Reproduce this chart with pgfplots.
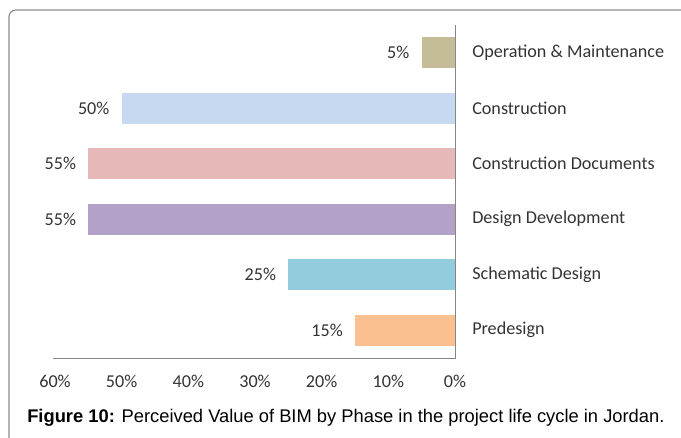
\documentclass[border=0pt]{standalone}
\usepackage{fontspec}
\setmainfont{Carlito}
\newfontfamily\capfont{Liberation Sans}
\usepackage{pgfplots}
\pgfplotsset{compat=1.18}
\definecolor{cOM}{HTML}{C4BD97}
\definecolor{cCO}{HTML}{C6D9F1}
\definecolor{cCD}{HTML}{E6B9B8}
\definecolor{cDD}{HTML}{B3A2C7}
\definecolor{cSD}{HTML}{93CDDD}
\definecolor{cPD}{HTML}{FAC090}
\definecolor{txt}{HTML}{333333}
\definecolor{axl}{HTML}{868686}
\begin{document}
\begin{tikzpicture}
\useasboundingbox (0,0) rectangle (510.75pt,327.75pt);
\begin{scope}
\clip (0,0) rectangle (510.75pt,327.75pt);
\draw[color=black!45, line width=0.9pt, rounded corners=5pt] (6.75pt,-10pt) -- (6.75pt,320.25pt) -- (540pt,320.25pt);
\end{scope}
\begin{axis}[
  anchor=south west, at={(41.25pt,59.25pt)},
  scale only axis, width=300pt, height=249.75pt,
  xbar, bar width=23.25pt, bar shift=0pt,
  x dir=reverse,
  xmin=0, xmax=60, ymin=-0.5, ymax=5.5,
  axis line style={draw=none},
  major tick length=0pt,
  clip=false,
  xtick={0,10,20,30,40,50,60},
  xticklabel={\pgfmathprintnumber{\tick}\%},
  xticklabel style={font=\fontsize{13.6}{16}\selectfont, text=txt, yshift=-9.5pt},
  ytick={0,1,2,3,4,5},
  yticklabels={Predesign,Schematic Design,Design Development,Construction Documents,Construction,Operation \& Maintenance},
  yticklabel pos=right,
  yticklabel style={font=\fontsize{13.6}{16}\selectfont, text=txt, anchor=west, inner sep=0pt, xshift=12.75pt},
  /pgf/number format/assume math mode=true,
  point meta=x,
  nodes near coords={\pgfmathprintnumber{\pgfplotspointmeta}\%},
  every node near coord/.append style={font=\fontsize{13.6}{16}\selectfont, text=txt, anchor=east, inner sep=0pt, xshift=-9pt},
]
\addplot[fill=cPD, draw=none] coordinates {(15,0)};
\addplot[fill=cSD, draw=none] coordinates {(25,1)};
\addplot[fill=cDD, draw=none] coordinates {(55,2)};
\addplot[fill=cCD, draw=none] coordinates {(55,3)};
\addplot[fill=cCO, draw=none] coordinates {(50,4)};
\addplot[fill=cOM, draw=none] coordinates {(5,5)};
\draw[axl, line width=0.75pt] (axis cs:60.3,-0.5) -- (axis cs:0,-0.5) -- (axis cs:0,5.5);
\end{axis}
\node[anchor=base west, inner sep=0pt] at (20.25pt,11.25pt) {\capfont\fontsize{13.75}{16}\selectfont\textbf{Figure 10:} Perceived Value of BIM by Phase in the project life cycle in Jordan.};
\end{tikzpicture}
\end{document}
